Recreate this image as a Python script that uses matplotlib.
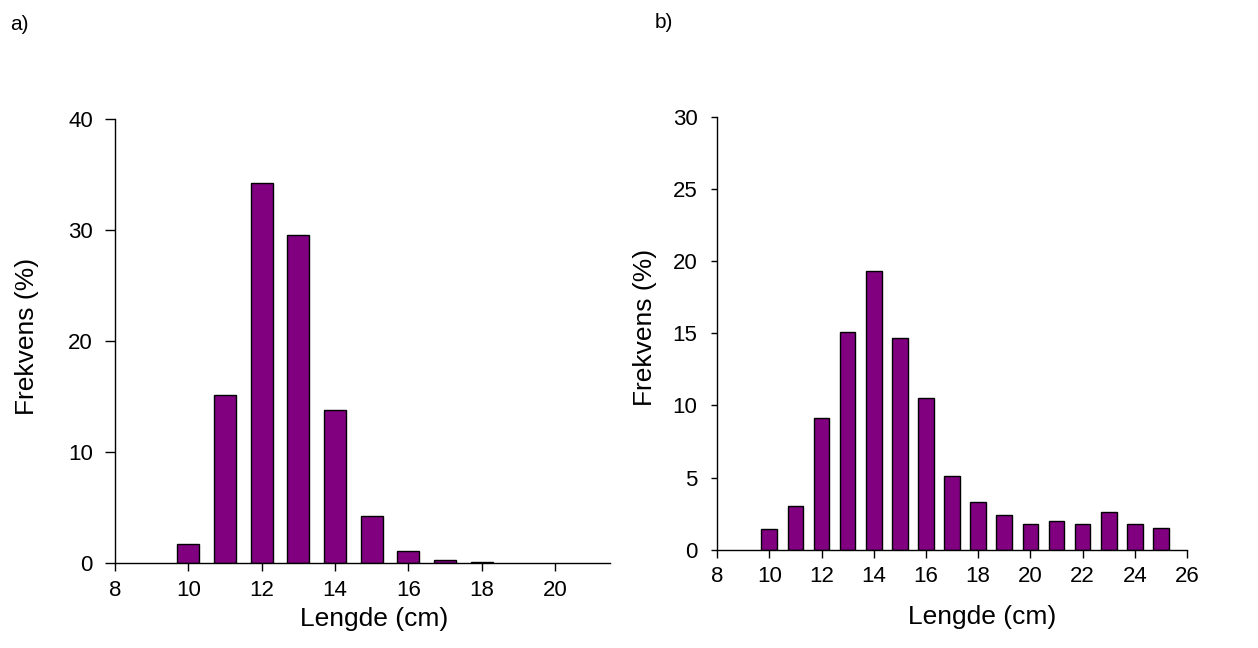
import matplotlib as mpl
import matplotlib.pyplot as plt

plt.rcParams['font.family'] = ['Liberation Sans', 'DejaVu Sans']

# panel a
lengthA = [10, 11, 12, 13, 14, 15, 16, 17, 18]
freqA = [1.7, 15.1, 34.2, 29.6, 13.8, 4.2, 1.1, 0.25, 0.1]

# panel b
lengthB = [10, 11, 12, 13, 14, 15, 16, 17, 18, 19, 20, 21, 22, 23, 24, 25]
freqB = [1.4, 3.0, 9.1, 15.1, 19.3, 14.7, 10.5, 5.1, 3.3, 2.4, 1.8, 2.0, 1.8, 2.6, 1.8, 1.5]

barColor = '#800080'


def styleAxes(ax, xlim, ylim, xticks, yticks, ylen, ypad):
    ax.set_xlim(xlim)
    ax.set_ylim(ylim)
    ax.set_xticks(xticks)
    ax.set_yticks(yticks)
    ax.spines['top'].set_visible(False)
    ax.spines['right'].set_visible(False)
    for s in ['left', 'bottom']:
        ax.spines[s].set_linewidth(1.0)
        ax.spines[s].set_color('black')
    ax.tick_params(axis='x', direction='out', length=6, width=1.0, labelsize=16, pad=6)
    ax.tick_params(axis='y', direction='out', length=ylen, width=1.0, labelsize=16, pad=ypad)


fig = plt.figure(figsize=(12.58, 6.48), dpi=100)

axA = fig.add_axes([0.0914, 0.1312, 0.3935, 0.685])
axA.bar(lengthA, freqA, width=0.6, color=barColor, edgecolor='black', linewidth=1.0, zorder=2)
styleAxes(axA, (8, 21.5), (0, 40), range(8, 21, 2), range(0, 41, 10), 7, 9)

axB = fig.add_axes([0.570, 0.1517, 0.3736, 0.668])
axB.bar(lengthB, freqB, width=0.6, color=barColor, edgecolor='black', linewidth=1.0, zorder=2)
styleAxes(axB, (8, 26), (0, 30), range(8, 27, 2), range(0, 31, 5), 4, 10)

# axis labels placed in figure pixels
W, H = 1258.0, 648.0
fig.text(374 / W, 1 - 626 / H, 'Lengde (cm)', fontsize=19, ha='center', va='baseline')
fig.text(982 / W, 1 - 624 / H, 'Lengde (cm)', fontsize=19, ha='center', va='baseline')
fig.text(27 / W, 1 - 336 / H, 'Frekvens (%)', fontsize=19, rotation=90, ha='center', va='center')
fig.text(645 / W, 1 - 327 / H, 'Frekvens (%)', fontsize=19, rotation=90, ha='center', va='center')

fig.text(10 / W, 1 - 24 / H, 'a)', fontsize=15, ha='left', va='center')
fig.text(655 / W, 1 - 23 / H, 'b)', fontsize=15, ha='left', va='center')

plt.savefig('out.png', dpi=100)
